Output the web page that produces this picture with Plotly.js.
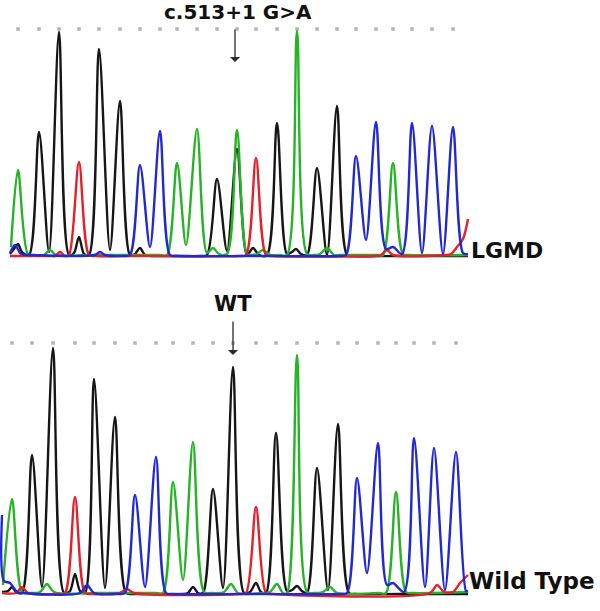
<!DOCTYPE html>
<html>
<head>
<meta charset="utf-8">
<script src="https://cdn.plot.ly/plotly-3.0.1.min.js"></script>
<style>html,body{margin:0;padding:0;background:#fff;}#chart{width:600px;height:611px;}</style>
</head>
<body>
<div id="chart"></div>
<script>
// ---------- DATA (scan position, signal intensity) ----------
// Base-call positions (dotted markers) for each panel
const topBaseX = [18,39,59,79,99,120,140,160,177,197,217,237,256,277,297,317,337,356,376,393,412,432,453];
const botBaseX = [12,32,53,75,94,115,135,156,173,193,213,233,256,276,297,317,338,357,378,396,414,434,456];
const topBaseLevel = 228;
const botBaseLevel = 252;

// LGMD (mutant) panel
const topBlackX = [10,14,18,22,29,39,49,59,69,74,79,84,89,99,110,120,130,135,140,145,152,180,200,207,217,227,237,247,253,259,267,277,287,292,296,301,307,317,327,337,347,354,400,468];
const topBlackY = [3,8,13,5,2,125,5,225,2,4,20,3,2,208,7,156,2,3,9,2,1,1,1,2,78,6,108,2,9,2,2,134,3,5,8,3,2,89,2,151,2,1,1,1];
const topGreenX = [11,18,28,35,44,50,56,90,160,167,177,186,197,207,213,219,227,237,247,252,257,263,270,280,287,297,307,314,320,327,334,340,376,383,393,403,410,468];
const topGreenY = [10,87,3,2,2,7,2,2,2,2,94,12,128,4,9,3,3,127,3,2,3,7,2,2,2,226,3,2,3,9,2,2,2,2,94,3,2,2];
const topRedX = [10,50,55,60,65,69,79,89,96,140,239,246,256,266,273,375,381,387,393,445,451,457,463,468];
const topRedY = [1,1,1,5,1,2,95,2,1,1,1,2,99,2,1,1,2,7,2,2,3,10,18,38];
const topBlueX = [10,15,21,30,95,100,105,123,130,140,150,160,170,177,250,339,346,356,366,376,386,393,402,412,422,432,443,453,463,468];
const topBlueY = [4,12,3,2,2,5,2,1,2,92,10,126,2,1,1,1,2,101,17,135,8,10,3,134,4,131,3,130,4,3];

// Wild Type panel
const botBlackX = [2,8,12,16,22,32,42,53,64,70,75,80,85,94,105,115,126,133,160,183,188,193,198,203,213,223,233,244,250,256,261,266,276,287,292,297,302,307,317,328,338,349,356,400,468];
const botBlackY = [3,4,8,3,2,140,8,247,2,4,21,4,2,216,7,178,2,1,1,1,2,8,2,2,106,7,228,2,3,12,3,2,162,4,5,9,4,2,127,5,171,2,1,1,1];
const botGreenX = [3,12,22,29,40,47,54,100,156,163,173,183,193,204,211,224,231,238,263,270,277,283,287,297,307,314,323,330,337,379,386,396,406,413,468];
const botGreenY = [10,96,3,2,3,11,3,2,2,2,113,15,153,3,2,3,11,2,2,3,11,2,2,240,3,2,3,8,2,2,2,103,3,2,3];
const botRedX = [2,16,22,28,58,65,75,85,92,120,127,134,239,246,256,266,273,430,437,444,453,460,468];
const botRedY = [2,2,8,2,1,2,98,2,1,2,6,2,1,2,88,2,1,2,10,3,3,12,20];
const botBlueX = [2,4,10,17,22,80,87,94,118,125,135,145,156,166,173,250,340,347,357,367,378,387,393,404,414,425,434,445,456,466,468];
const botBlueY = [80,14,12,3,2,2,10,2,1,2,100,8,138,2,1,1,1,2,117,22,152,10,12,3,157,8,147,5,143,4,4];

const panelLabels = ['LGMD', 'Wild Type'];
const markerLabels = ['c.513+1 G>A', 'WT'];

// ---------- STYLE ----------
const COL = {black:'#161616', green:'#25b425', red:'#e4212b', blue:'#2228d4'};

function chan(x, y, color, xa, ya) {
  return {x: x, y: y, type: 'scatter', mode: 'lines', xaxis: xa, yaxis: ya,
    line: {color: color, width: 2.4, shape: 'spline', smoothing: 0.85},
    hoverinfo: 'skip'};
}
function dots(xs, level, xa, ya) {
  return {x: xs, y: xs.map(() => level), type: 'scatter', mode: 'markers', xaxis: xa, yaxis: ya,
    marker: {color: '#b3b3b3', size: 3.5, symbol: 'square'}, hoverinfo: 'skip'};
}

const traces = [
  dots(topBaseX, topBaseLevel, 'x', 'y'),
  chan(topBlackX, topBlackY, COL.black, 'x', 'y'),
  chan(topGreenX, topGreenY, COL.green, 'x', 'y'),
  chan(topRedX, topRedY, COL.red, 'x', 'y'),
  chan(topBlueX, topBlueY, COL.blue, 'x', 'y'),
  dots(botBaseX, botBaseLevel, 'x2', 'y2'),
  chan(botBlackX, botBlackY, COL.black, 'x2', 'y2'),
  chan(botGreenX, botGreenY, COL.green, 'x2', 'y2'),
  chan(botRedX, botRedY, COL.red, 'x2', 'y2'),
  chan(botBlueX, botBlueY, COL.blue, 'x2', 'y2')
];

const H = 611;
const py = p => 1 - p / H;
const labelFont = {family: 'DejaVu Sans', size: 22, color: '#111', weight: 'bold'};

const ax = {visible: false, showgrid: false, zeroline: false, range: [0, 600], domain: [0, 1], fixedrange: true};
const layout = {
  width: 600, height: 611,
  margin: {l: 0, r: 0, t: 0, b: 0},
  paper_bgcolor: '#fff', plot_bgcolor: '#fff',
  showlegend: false,
  xaxis: Object.assign({}, ax, {anchor: 'y'}),
  yaxis: {visible: false, showgrid: false, zeroline: false, range: [-3, 257], domain: [py(260), 1], anchor: 'x'},
  xaxis2: Object.assign({}, ax, {anchor: 'y2'}),
  yaxis2: {visible: false, showgrid: false, zeroline: false, range: [-3, 295], domain: [py(598), py(300)], anchor: 'x2'},
  annotations: [
    {text: markerLabels[0], xref: 'x', yref: 'paper', x: 238, y: py(11.5), xanchor: 'center', yanchor: 'middle',
     showarrow: false, font: {family: 'DejaVu Sans', size: 20, color: '#111', weight: 'bold'}},
    {text: '', xref: 'x', yref: 'paper', x: 235, y: py(62), showarrow: true, ax: 0, ay: -34,
     arrowhead: 1, arrowsize: 1.3, arrowwidth: 1.3, arrowcolor: '#2a2a2a', standoff: 0},
    {text: markerLabels[1], xref: 'x', yref: 'paper', x: 233, y: py(303.5), xanchor: 'center', yanchor: 'middle',
     showarrow: false, font: {family: 'DejaVu Sans', size: 21, color: '#111', weight: 'bold'}},
    {text: '', xref: 'x', yref: 'paper', x: 233, y: py(355), showarrow: true, ax: 0, ay: -35,
     arrowhead: 1, arrowsize: 1.3, arrowwidth: 1.3, arrowcolor: '#2a2a2a', standoff: 0},
    {text: panelLabels[0], xref: 'x', yref: 'paper', x: 469, y: py(250), xanchor: 'left', yanchor: 'middle',
     showarrow: false, font: labelFont},
    {text: panelLabels[1], xref: 'x', yref: 'paper', x: 467, y: py(581), xanchor: 'left', yanchor: 'middle',
     showarrow: false, font: {family: 'DejaVu Sans', size: 23, color: '#111', weight: 'bold'}}
  ]
};

Plotly.newPlot('chart', traces, layout, {staticPlot: true, displayModeBar: false});
</script>
</body>
</html>
